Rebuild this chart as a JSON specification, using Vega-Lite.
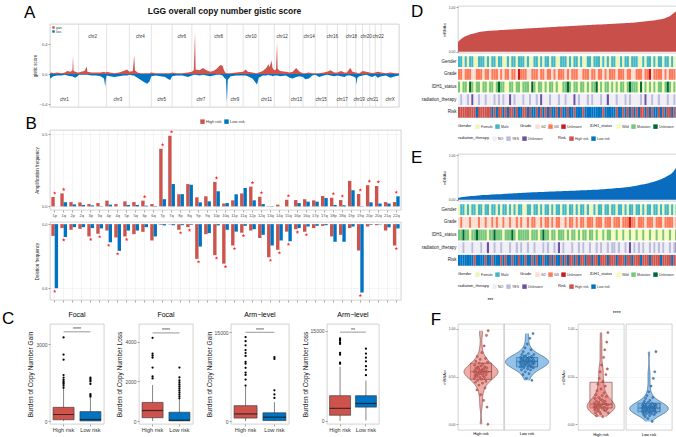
{
"$schema": "https://vega.github.io/schema/vega-lite/v6.json",
"padding": {"left": 2, "top": 2, "right": 0, "bottom": 0},
"background": "white",
"align": "none",
"config": {
 "font": "Liberation Sans",
 "view": {"stroke": "#b3b3b3", "strokeWidth": 0.6},
 "axis": {"labelFontSize": 4, "titleFontSize": 4.5, "titleFontWeight": "normal", "labelColor": "#4d4d4d", "titleColor": "#1a1a1a", "tickColor": "#4d4d4d", "tickSize": 2, "tickWidth": 0.5, "domain": false, "grid": false, "gridColor": "#ebebeb", "gridWidth": 0.5, "labelPadding": 1, "titlePadding": 2},
 "legend": {"labelFontSize": 3.5, "titleFontSize": 4, "titleFontWeight": "normal", "symbolType": "square", "symbolSize": 20, "symbolStrokeWidth": 0, "columnPadding": 2, "labelOffset": 1, "titlePadding": 3, "padding": 0, "rowPadding": 0, "labelColor": "#333", "titleColor": "#111"}
},
"resolve": {"scale": {"color": "independent", "fill": "independent", "stroke": "independent"}},
"datasets": {
 "glab": [{"g": "H", "gl": "High risk"}, {"g": "L", "gl": "Low risk"}],
 "gis": [
  {"p":0,"g":0.01,"l":-0.06},{"p":10,"g":0.02,"l":-0.05},{"p":30,"g":0.01,"l":-0.03},{"p":60,"g":0.02,"l":-0.02},{"p":100,"g":0.01,"l":-0.02},{"p":130,"g":0.02,"l":-0.01},{"p":150,"g":0.04,"l":-0.02},{"p":180,"g":0.03,"l":-0.03},{"p":195,"g":0.05,"l":-0.03},{"p":200,"g":0.24,"l":-0.04},{"p":205,"g":0.04,"l":-0.04},{"p":220,"g":0.03,"l":-0.05},{"p":240,"g":0.02,"l":-0.03},{"p":250,"g":0.02,"l":-0.01},{"p":270,"g":0.03,"l":-0.01},{"p":300,"g":0.04,"l":-0.01},{"p":320,"g":0.1,"l":-0.01},{"p":325,"g":0.03,"l":-0.01},{"p":360,"g":0.02,"l":-0.02},{"p":400,"g":0.02,"l":-0.02},{"p":440,"g":0.02,"l":-0.03},{"p":470,"g":0.03,"l":-0.06},{"p":480,"g":0.02,"l":-0.17},{"p":485,"g":0.02,"l":-0.08},{"p":492,"g":0.03,"l":-0.02},{"p":520,"g":0.02,"l":-0.03},{"p":560,"g":0.01,"l":-0.04},{"p":600,"g":0.02,"l":-0.03},{"p":640,"g":0.04,"l":-0.02},{"p":670,"g":0.06,"l":-0.02},{"p":690,"g":0.03,"l":-0.01},{"p":720,"g":0.04,"l":-0.02},{"p":732,"g":0.25,"l":-0.02},{"p":738,"g":0.05,"l":-0.03},{"p":760,"g":0.02,"l":-0.05},{"p":790,"g":0.01,"l":-0.08},{"p":820,"g":0.01,"l":-0.11},{"p":845,"g":0.01,"l":-0.13},{"p":865,"g":0.01,"l":-0.1},{"p":881,"g":0.02,"l":-0.03},{"p":920,"g":0.01,"l":-0.02},{"p":960,"g":0.01,"l":-0.03},{"p":1000,"g":0.01,"l":-0.04},{"p":1030,"g":0.01,"l":-0.07},{"p":1045,"g":0.01,"l":-0.08},{"p":1062,"g":0.02,"l":-0.03},{"p":1100,"g":0.01,"l":-0.02},{"p":1150,"g":0.01,"l":-0.02},{"p":1200,"g":0.02,"l":-0.04},{"p":1233,"g":0.03,"l":-0.02},{"p":1250,"g":0.05,"l":-0.01},{"p":1261,"g":0.55,"l":-0.01},{"p":1266,"g":0.06,"l":-0.01},{"p":1300,"g":0.05,"l":-0.02},{"p":1330,"g":0.08,"l":-0.01},{"p":1360,"g":0.05,"l":-0.02},{"p":1392,"g":0.03,"l":-0.03},{"p":1420,"g":0.04,"l":-0.02},{"p":1450,"g":0.07,"l":-0.01},{"p":1480,"g":0.12,"l":-0.01},{"p":1500,"g":0.11,"l":-0.02},{"p":1515,"g":0.04,"l":-0.05},{"p":1530,"g":0.01,"l":-0.07},{"p":1538,"g":0.01,"l":-0.38},{"p":1545,"g":0.01,"l":-0.08},{"p":1570,"g":0.01,"l":-0.03},{"p":1620,"g":0.02,"l":-0.02},{"p":1679,"g":0.03,"l":-0.02},{"p":1700,"g":0.06,"l":-0.02},{"p":1720,"g":0.03,"l":-0.03},{"p":1760,"g":0.02,"l":-0.06},{"p":1790,"g":0.01,"l":-0.12},{"p":1800,"g":0.01,"l":-0.14},{"p":1815,"g":0.02,"l":-0.05},{"p":1850,"g":0.04,"l":-0.02},{"p":1880,"g":0.08,"l":-0.02},{"p":1900,"g":0.13,"l":-0.01},{"p":1910,"g":0.09,"l":-0.02},{"p":1925,"g":0.18,"l":-0.02},{"p":1935,"g":0.08,"l":-0.03},{"p":1950,"g":0.05,"l":-0.02},{"p":1965,"g":0.06,"l":-0.02},{"p":1974,"g":0.42,"l":-0.02},{"p":1979,"g":0.07,"l":-0.02},{"p":2000,"g":0.04,"l":-0.03},{"p":2050,"g":0.03,"l":-0.02},{"p":2084,"g":0.02,"l":-0.05},{"p":2110,"g":0.03,"l":-0.06},{"p":2140,"g":0.08,"l":-0.04},{"p":2170,"g":0.03,"l":-0.03},{"p":2199,"g":0.01,"l":-0.04},{"p":2220,"g":0.01,"l":-0.07},{"p":2250,"g":0.02,"l":-0.06},{"p":2280,"g":0.01,"l":-0.02},{"p":2306,"g":0.01,"l":-0.01},{"p":2340,"g":0.01,"l":-0.04},{"p":2380,"g":0.02,"l":-0.02},{"p":2409,"g":0.03,"l":-0.01},{"p":2440,"g":0.05,"l":-0.02},{"p":2470,"g":0.02,"l":-0.03},{"p":2499,"g":0.02,"l":-0.02},{"p":2530,"g":0.04,"l":-0.03},{"p":2560,"g":0.02,"l":-0.04},{"p":2580,"g":0.02,"l":-0.02},{"p":2610,"g":0.08,"l":-0.02},{"p":2630,"g":0.03,"l":-0.03},{"p":2658,"g":0.02,"l":-0.05},{"p":2665,"g":0.02,"l":-0.14},{"p":2672,"g":0.01,"l":-0.05},{"p":2690,"g":0.01,"l":-0.03},{"p":2717,"g":0.04,"l":-0.02},{"p":2750,"g":0.03,"l":-0.01},{"p":2780,"g":0.02,"l":-0.03},{"p":2800,"g":0.01,"l":-0.04},{"p":2828,"g":0.02,"l":-0.02},{"p":2850,"g":0.03,"l":-0.05},{"p":2879,"g":0.02,"l":-0.03},{"p":2920,"g":0.01,"l":-0.02},{"p":2960,"g":0.02,"l":-0.05},{"p":3000,"g":0.01,"l":-0.03},{"p":3034,"g":0.01,"l":-0.02}
 ],
 "chr": [
  {"c":"chr1","s":0,"m":124,"n":1},{"c":"chr2","s":249,"m":370,"n":2},{"c":"chr3","s":492,"m":591,"n":3},{"c":"chr4","s":690,"m":785,"n":4},{"c":"chr5","s":881,"m":971,"n":5},{"c":"chr6","s":1062,"m":1147,"n":6},{"c":"chr7","s":1233,"m":1312,"n":7},{"c":"chr8","s":1392,"m":1465,"n":8},{"c":"chr9","s":1538,"m":1608,"n":9},{"c":"chr10","s":1679,"m":1747,"n":10},{"c":"chr11","s":1815,"m":1882,"n":11},{"c":"chr12","s":1950,"m":2017,"n":12},{"c":"chr13","s":2084,"m":2141,"n":13},{"c":"chr14","s":2199,"m":2252,"n":14},{"c":"chr15","s":2306,"m":2357,"n":15},{"c":"chr16","s":2409,"m":2454,"n":16},{"c":"chr17","s":2499,"m":2539,"n":17},{"c":"chr18","s":2580,"m":2619,"n":18},{"c":"chr19","s":2658,"m":2687,"n":19},{"c":"chr20","s":2717,"m":2748,"n":20},{"c":"chr21","s":2780,"m":2804,"n":21},{"c":"chr22","s":2828,"m":2853,"n":22},{"c":"chrX","s":2879,"m":2956,"n":23}
 ],
 "arm": [
  {"a":"1p","r":"H","amp":0.065,"del":0.11},{"a":"1p","r":"L","amp":0,"del":0.6},
  {"a":"1q","r":"H","amp":0.09,"del":0.037},{"a":"1q","r":"L","amp":0.028,"del":0.12},
  {"a":"2p","r":"H","amp":0.03,"del":0.053},{"a":"2p","r":"L","amp":0.014,"del":0.028},
  {"a":"2q","r":"H","amp":0.028,"del":0.044},{"a":"2q","r":"L","amp":0.01,"del":0.028},
  {"a":"3p","r":"H","amp":0.016,"del":0.115},{"a":"3p","r":"L","amp":0.007,"del":0.037},
  {"a":"3q","r":"H","amp":0.023,"del":0.09},{"a":"3q","r":"L","amp":0.002,"del":0.04},
  {"a":"4p","r":"H","amp":0.04,"del":0.06},{"a":"4p","r":"L","amp":0.012,"del":0.17},
  {"a":"4q","r":"H","amp":0.016,"del":0.125},{"a":"4q","r":"L","amp":0,"del":0.25},
  {"a":"5p","r":"H","amp":0.035,"del":0.115},{"a":"5p","r":"L","amp":0.01,"del":0.06},
  {"a":"5q","r":"H","amp":0.03,"del":0.094},{"a":"5q","r":"L","amp":0.01,"del":0.06},
  {"a":"6p","r":"H","amp":0.04,"del":0.072},{"a":"6p","r":"L","amp":0.005,"del":0.028},
  {"a":"6q","r":"H","amp":0.016,"del":0.153},{"a":"6q","r":"L","amp":0.003,"del":0.115},
  {"a":"7p","r":"H","amp":0.4,"del":0.006},{"a":"7p","r":"L","amp":0.05,"del":0.012},
  {"a":"7q","r":"H","amp":0.49,"del":0.003},{"a":"7q","r":"L","amp":0.155,"del":0.01},
  {"a":"8p","r":"H","amp":0.085,"del":0.053},{"a":"8p","r":"L","amp":0.085,"del":0.01},
  {"a":"8q","r":"H","amp":0.155,"del":0.028},{"a":"8q","r":"L","amp":0.15,"del":0.006},
  {"a":"9p","r":"H","amp":0.063,"del":0.325},{"a":"9p","r":"L","amp":0.028,"del":0.21},
  {"a":"9q","r":"H","amp":0.07,"del":0.094},{"a":"9q","r":"L","amp":0.035,"del":0.084},
  {"a":"10p","r":"H","amp":0.17,"del":0.29},{"a":"10p","r":"L","amp":0.105,"del":0.012},
  {"a":"10q","r":"H","amp":0.02,"del":0.37},{"a":"10q","r":"L","amp":0.023,"del":0.053},
  {"a":"11p","r":"H","amp":0.042,"del":0.2},{"a":"11p","r":"L","amp":0.084,"del":0.07},
  {"a":"11q","r":"H","amp":0.09,"del":0.08},{"a":"11q","r":"L","amp":0.128,"del":0.016},
  {"a":"12p","r":"H","amp":0.137,"del":0.06},{"a":"12p","r":"L","amp":0.042,"del":0.047},
  {"a":"12q","r":"H","amp":0.067,"del":0.13},{"a":"12q","r":"L","amp":0.016,"del":0.1},
  {"a":"13q","r":"H","amp":0.002,"del":0.31},{"a":"13q","r":"L","amp":0.002,"del":0.2},
  {"a":"14q","r":"H","amp":0.012,"del":0.24},{"a":"14q","r":"L","amp":0,"del":0.153},
  {"a":"15q","r":"H","amp":0.046,"del":0.07},{"a":"15q","r":"L","amp":0,"del":0.16},
  {"a":"16p","r":"H","amp":0.044,"del":0.047},{"a":"16p","r":"L","amp":0.023,"del":0.037},
  {"a":"16q","r":"H","amp":0.05,"del":0.072},{"a":"16q","r":"L","amp":0.033,"del":0.022},
  {"a":"17p","r":"H","amp":0.042,"del":0.037},{"a":"17p","r":"L","amp":0.033,"del":0.016},
  {"a":"17q","r":"H","amp":0.072,"del":0.016},{"a":"17q","r":"L","amp":0.058,"del":0.01},
  {"a":"18p","r":"H","amp":0.06,"del":0.115},{"a":"18p","r":"L","amp":0.01,"del":0.165},
  {"a":"18q","r":"H","amp":0.044,"del":0.1},{"a":"18q","r":"L","amp":0.008,"del":0.165},
  {"a":"19p","r":"H","amp":0.177,"del":0.037},{"a":"19p","r":"L","amp":0.112,"del":0.022},
  {"a":"19q","r":"H","amp":0.086,"del":0.247},{"a":"19q","r":"L","amp":0.002,"del":0.64},
  {"a":"20p","r":"H","amp":0.147,"del":0.022},{"a":"20p","r":"L","amp":0.028,"del":0.006},
  {"a":"20q","r":"H","amp":0.142,"del":0.01},{"a":"20q","r":"L","amp":0.02,"del":0.003},
  {"a":"21q","r":"H","amp":0.03,"del":0.06},{"a":"21q","r":"L","amp":0.02,"del":0.03},
  {"a":"22q","r":"H","amp":0.03,"del":0.2},{"a":"22q","r":"L","amp":0.07,"del":0.04}
 ],
 "st": [
  {"a":"1p","t":"amp","v":0.065},{"a":"1q","t":"amp","v":0.09},{"a":"6p","t":"amp","v":0.04},{"a":"7p","t":"amp","v":0.4},{"a":"7q","t":"amp","v":0.49},{"a":"10p","t":"amp","v":0.17},{"a":"12p","t":"amp","v":0.137},{"a":"12q","t":"amp","v":0.067},{"a":"15q","t":"amp","v":0.046},{"a":"18p","t":"amp","v":0.06},{"a":"18q","t":"amp","v":0.044},{"a":"19q","t":"amp","v":0.086},{"a":"20p","t":"amp","v":0.147},{"a":"20q","t":"amp","v":0.142},{"a":"22q","t":"amp","v":0.07},
  {"a":"1p","t":"del","v":0.6},{"a":"1q","t":"del","v":0.12},{"a":"3p","t":"del","v":0.115},{"a":"3q","t":"del","v":0.09},{"a":"4p","t":"del","v":0.17},{"a":"4q","t":"del","v":0.25},{"a":"5p","t":"del","v":0.115},{"a":"8p","t":"del","v":0.053},{"a":"8q","t":"del","v":0.028},{"a":"9p","t":"del","v":0.325},{"a":"10p","t":"del","v":0.29},{"a":"10q","t":"del","v":0.37},{"a":"11p","t":"del","v":0.2},{"a":"11q","t":"del","v":0.08},{"a":"13q","t":"del","v":0.31},{"a":"14q","t":"del","v":0.24},{"a":"15q","t":"del","v":0.16},{"a":"16p","t":"del","v":0.047},{"a":"16q","t":"del","v":0.072},{"a":"19q","t":"del","v":0.64},{"a":"22q","t":"del","v":0.2}
 ],
 "cb": [
  {"p":"FG","g":"High risk","lo":0,"q1":50,"md":256,"q3":536,"hi":1250},{"p":"FG","g":"Low risk","lo":0,"q1":5,"md":60,"q3":370,"hi":900},
  {"p":"FL","g":"High risk","lo":0,"q1":165,"md":530,"q3":940,"hi":1820},{"p":"FL","g":"Low risk","lo":0,"q1":10,"md":40,"q3":445,"hi":1100},
  {"p":"AG","g":"High risk","lo":0,"q1":500,"md":1200,"q3":2600,"hi":5800},{"p":"AG","g":"Low risk","lo":0,"q1":80,"md":650,"q3":1400,"hi":3200},
  {"p":"AL","g":"High risk","lo":0,"q1":950,"md":2100,"q3":4200,"hi":9000},{"p":"AL","g":"Low risk","lo":100,"q1":2300,"md":2900,"q3":4200,"hi":6700}
 ],
 "co": [
  {"p":"FG","g":"High risk","v":1300},{"p":"FG","g":"High risk","v":1380},{"p":"FG","g":"High risk","v":1450},{"p":"FG","g":"High risk","v":1500},{"p":"FG","g":"High risk","v":1560},{"p":"FG","g":"High risk","v":1620},{"p":"FG","g":"High risk","v":1700},{"p":"FG","g":"High risk","v":1800},{"p":"FG","g":"High risk","v":2400},{"p":"FG","g":"High risk","v":2600},{"p":"FG","g":"High risk","v":3270},
  {"p":"FG","g":"Low risk","v":950},{"p":"FG","g":"Low risk","v":1000},{"p":"FG","g":"Low risk","v":1050},{"p":"FG","g":"Low risk","v":1450},{"p":"FG","g":"Low risk","v":1550},{"p":"FG","g":"Low risk","v":1600},{"p":"FG","g":"Low risk","v":1650},{"p":"FG","g":"Low risk","v":1700},
  {"p":"FL","g":"High risk","v":2150},{"p":"FL","g":"High risk","v":2250},{"p":"FL","g":"High risk","v":2700},{"p":"FL","g":"High risk","v":3200},{"p":"FL","g":"High risk","v":3300},{"p":"FL","g":"High risk","v":3400},{"p":"FL","g":"High risk","v":4200},
  {"p":"FL","g":"Low risk","v":1150},{"p":"FL","g":"Low risk","v":1250},{"p":"FL","g":"Low risk","v":1350},{"p":"FL","g":"Low risk","v":1450},{"p":"FL","g":"Low risk","v":1550},{"p":"FL","g":"Low risk","v":1650},{"p":"FL","g":"Low risk","v":1750},{"p":"FL","g":"Low risk","v":1850},{"p":"FL","g":"Low risk","v":1950},{"p":"FL","g":"Low risk","v":2050},{"p":"FL","g":"Low risk","v":2200},{"p":"FL","g":"Low risk","v":2700},
  {"p":"AG","g":"High risk","v":6000},{"p":"AG","g":"High risk","v":7000},{"p":"AG","g":"High risk","v":7800},{"p":"AG","g":"High risk","v":8200},{"p":"AG","g":"High risk","v":9000},{"p":"AG","g":"High risk","v":9700},{"p":"AG","g":"High risk","v":10000},{"p":"AG","g":"High risk","v":11000},{"p":"AG","g":"High risk","v":11500},{"p":"AG","g":"High risk","v":12000},{"p":"AG","g":"High risk","v":12800},{"p":"AG","g":"High risk","v":13500},{"p":"AG","g":"High risk","v":14200},
  {"p":"AG","g":"Low risk","v":3900},{"p":"AG","g":"Low risk","v":4500},{"p":"AG","g":"Low risk","v":5200},{"p":"AG","g":"Low risk","v":10500},{"p":"AG","g":"Low risk","v":10800},
  {"p":"AL","g":"High risk","v":9500},{"p":"AL","g":"High risk","v":9700},{"p":"AL","g":"High risk","v":11000},{"p":"AL","g":"High risk","v":11300},{"p":"AL","g":"High risk","v":12800},{"p":"AL","g":"High risk","v":13000},{"p":"AL","g":"High risk","v":13300},{"p":"AL","g":"High risk","v":13500},{"p":"AL","g":"High risk","v":13700},
  {"p":"AL","g":"Low risk","v":7600},{"p":"AL","g":"Low risk","v":8500},{"p":"AL","g":"Low risk","v":9100},{"p":"AL","g":"Low risk","v":9900},{"p":"AL","g":"Low risk","v":10500},{"p":"AL","g":"Low risk","v":11200},{"p":"AL","g":"Low risk","v":12000}
 ],
 "cs": [
  {"p":"FG","y":3487,"t":"****"},{"p":"FL","y":4450,"t":"****"},{"p":"AG","y":15000,"t":"****"},{"p":"AL","y":14750,"t":"**"}
 ],
 "dd": [
  {"i":1,"m":0.22,"g":"M","r":"3","d":"M","t":"N","k":"H"},{"i":2,"m":0.27,"g":"M","r":"3","d":"W","t":"Y","k":"H"},{"i":3,"m":0.31,"g":"F","r":"2","d":"M","t":"N","k":"H"},{"i":4,"m":0.34,"g":"M","r":"3","d":"M","t":"N","k":"H"},{"i":5,"m":0.36,"g":"F","r":"3","d":"W","t":"Y","k":"H"},{"i":6,"m":0.38,"g":"M","r":"3","d":"U","t":"N","k":"H"},{"i":7,"m":0.4,"g":"M","r":"2","d":"M","t":"U","k":"H"},{"i":8,"m":0.41,"g":"F","r":"2","d":"W","t":"N","k":"H"},{"i":9,"m":0.42,"g":"F","r":"3","d":"M","t":"N","k":"L"},{"i":10,"m":0.44,"g":"M","r":"3","d":"M","t":"Y","k":"H"},
  {"i":11,"m":0.45,"g":"M","r":"3","d":"W","t":"N","k":"H"},{"i":12,"m":0.455,"g":"M","r":"2","d":"M","t":"N","k":"H"},{"i":13,"m":0.46,"g":"F","r":"3","d":"M","t":"Y","k":"H"},{"i":14,"m":0.465,"g":"M","r":"3","d":"W","t":"N","k":"H"},{"i":15,"m":0.47,"g":"F","r":"2","d":"M","t":"N","k":"H"},{"i":16,"m":0.472,"g":"M","r":"3","d":"M","t":"N","k":"L"},{"i":17,"m":0.475,"g":"M","r":"3","d":"W","t":"Y","k":"H"},{"i":18,"m":0.478,"g":"F","r":"3","d":"M","t":"N","k":"L"},{"i":19,"m":0.482,"g":"M","r":"2","d":"U","t":"Y","k":"H"},{"i":20,"m":0.486,"g":"M","r":"3","d":"M","t":"N","k":"H"},
  {"i":21,"m":0.49,"g":"F","r":"2","d":"M","t":"Y","k":"L"},{"i":22,"m":0.493,"g":"F","r":"3","d":"W","t":"N","k":"H"},{"i":23,"m":0.496,"g":"M","r":"3","d":"W","t":"N","k":"L"},{"i":24,"m":0.499,"g":"F","r":"2","d":"M","t":"U","k":"H"},{"i":25,"m":0.502,"g":"M","r":"3","d":"M","t":"N","k":"H"},{"i":26,"m":0.505,"g":"M","r":"3","d":"W","t":"Y","k":"L"},{"i":27,"m":0.508,"g":"F","r":"2","d":"M","t":"N","k":"H"},{"i":28,"m":0.511,"g":"M","r":"U","d":"M","t":"N","k":"L"},{"i":29,"m":0.514,"g":"M","r":"3","d":"W","t":"N","k":"L"},{"i":30,"m":0.517,"g":"M","r":"3","d":"M","t":"Y","k":"H"},
  {"i":31,"m":0.52,"g":"F","r":"3","d":"M","t":"N","k":"H"},{"i":32,"m":0.523,"g":"M","r":"2","d":"M","t":"N","k":"L"},{"i":33,"m":0.526,"g":"F","r":"2","d":"W","t":"Y","k":"H"},{"i":34,"m":0.529,"g":"F","r":"3","d":"U","t":"N","k":"L"},{"i":35,"m":0.532,"g":"M","r":"3","d":"M","t":"N","k":"L"},{"i":36,"m":0.535,"g":"M","r":"3","d":"W","t":"Y","k":"H"},{"i":37,"m":0.538,"g":"F","r":"2","d":"M","t":"N","k":"L"},{"i":38,"m":0.541,"g":"M","r":"3","d":"M","t":"U","k":"H"},{"i":39,"m":0.544,"g":"F","r":"3","d":"W","t":"N","k":"L"},{"i":40,"m":0.547,"g":"M","r":"2","d":"M","t":"N","k":"H"},
  {"i":41,"m":0.55,"g":"M","r":"3","d":"W","t":"N","k":"L"},{"i":42,"m":0.553,"g":"F","r":"3","d":"M","t":"Y","k":"H"},{"i":43,"m":0.556,"g":"M","r":"2","d":"M","t":"N","k":"L"},{"i":44,"m":0.559,"g":"M","r":"3","d":"W","t":"N","k":"L"},{"i":45,"m":0.562,"g":"F","r":"2","d":"M","t":"N","k":"H"},{"i":46,"m":0.565,"g":"F","r":"3","d":"W","t":"Y","k":"L"},{"i":47,"m":0.568,"g":"M","r":"3","d":"W","t":"N","k":"H"},{"i":48,"m":0.57,"g":"M","r":"3","d":"M","t":"N","k":"L"},{"i":49,"m":0.573,"g":"M","r":"2","d":"M","t":"Y","k":"L"},{"i":50,"m":0.575,"g":"F","r":"3","d":"U","t":"N","k":"H"},
  {"i":51,"m":0.578,"g":"M","r":"2","d":"M","t":"N","k":"L"},{"i":52,"m":0.581,"g":"F","r":"3","d":"W","t":"N","k":"L"},{"i":53,"m":0.583,"g":"M","r":"3","d":"M","t":"U","k":"H"},{"i":54,"m":0.586,"g":"M","r":"3","d":"M","t":"N","k":"L"},{"i":55,"m":0.589,"g":"F","r":"2","d":"W","t":"Y","k":"L"},{"i":56,"m":0.591,"g":"M","r":"2","d":"M","t":"N","k":"L"},{"i":57,"m":0.594,"g":"F","r":"3","d":"M","t":"N","k":"H"},{"i":58,"m":0.597,"g":"F","r":"3","d":"W","t":"N","k":"L"},{"i":59,"m":0.599,"g":"M","r":"3","d":"M","t":"Y","k":"L"},{"i":60,"m":0.602,"g":"M","r":"2","d":"W","t":"N","k":"L"},
  {"i":61,"m":0.605,"g":"F","r":"3","d":"M","t":"Y","k":"L"},{"i":62,"m":0.607,"g":"M","r":"3","d":"M","t":"N","k":"L"},{"i":63,"m":0.61,"g":"M","r":"2","d":"U","t":"N","k":"L"},{"i":64,"m":0.613,"g":"M","r":"3","d":"W","t":"N","k":"L"},{"i":65,"m":0.615,"g":"F","r":"3","d":"M","t":"Y","k":"L"},{"i":66,"m":0.618,"g":"M","r":"2","d":"W","t":"N","k":"H"},{"i":67,"m":0.621,"g":"F","r":"3","d":"M","t":"N","k":"L"},{"i":68,"m":0.623,"g":"M","r":"2","d":"M","t":"U","k":"L"},{"i":69,"m":0.626,"g":"F","r":"3","d":"W","t":"N","k":"L"},{"i":70,"m":0.629,"g":"M","r":"3","d":"M","t":"N","k":"L"},
  {"i":71,"m":0.631,"g":"M","r":"3","d":"W","t":"N","k":"L"},{"i":72,"m":0.634,"g":"F","r":"2","d":"M","t":"Y","k":"H"},{"i":73,"m":0.637,"g":"F","r":"3","d":"W","t":"N","k":"L"},{"i":74,"m":0.639,"g":"M","r":"3","d":"M","t":"N","k":"L"},{"i":75,"m":0.642,"g":"F","r":"3","d":"M","t":"N","k":"H"},{"i":76,"m":0.645,"g":"M","r":"2","d":"W","t":"Y","k":"L"},{"i":77,"m":0.647,"g":"M","r":"3","d":"M","t":"N","k":"H"},{"i":78,"m":0.65,"g":"F","r":"3","d":"U","t":"Y","k":"L"},{"i":79,"m":0.655,"g":"M","r":"2","d":"M","t":"N","k":"H"},{"i":80,"m":0.66,"g":"M","r":"2","d":"M","t":"N","k":"L"},
  {"i":81,"m":0.665,"g":"M","r":"3","d":"M","t":"N","k":"H"},{"i":82,"m":0.67,"g":"F","r":"3","d":"W","t":"N","k":"L"},{"i":83,"m":0.675,"g":"F","r":"3","d":"U","t":"Y","k":"H"},{"i":84,"m":0.68,"g":"M","r":"2","d":"W","t":"N","k":"H"},{"i":85,"m":0.686,"g":"F","r":"3","d":"M","t":"U","k":"L"},{"i":86,"m":0.692,"g":"M","r":"3","d":"W","t":"N","k":"H"},{"i":87,"m":0.698,"g":"M","r":"U","d":"M","t":"N","k":"L"},{"i":88,"m":0.704,"g":"F","r":"2","d":"W","t":"Y","k":"H"},{"i":89,"m":0.71,"g":"M","r":"3","d":"M","t":"N","k":"L"},{"i":90,"m":0.718,"g":"F","r":"3","d":"W","t":"N","k":"L"},
  {"i":91,"m":0.727,"g":"M","r":"3","d":"M","t":"Y","k":"H"},{"i":92,"m":0.737,"g":"M","r":"3","d":"M","t":"N","k":"L"},{"i":93,"m":0.75,"g":"F","r":"2","d":"W","t":"N","k":"H"},{"i":94,"m":0.77,"g":"M","r":"3","d":"M","t":"N","k":"L"},{"i":95,"m":0.79,"g":"M","r":"2","d":"U","t":"Y","k":"H"},{"i":96,"m":0.82,"g":"F","r":"3","d":"M","t":"N","k":"H"},{"i":97,"m":0.86,"g":"M","r":"3","d":"W","t":"N","k":"L"},{"i":98,"m":0.9,"g":"F","r":"3","d":"M","t":"Y","k":"H"},{"i":99,"m":0.95,"g":"F","r":"2","d":"W","t":"N","k":"L"},{"i":100,"m":1.0,"g":"M","r":"3","d":"M","t":"U","k":"H"}
 ],
 "ed": [
  {"i":1,"m":0.04,"g":"F","r":"2","d":"M","t":"N","k":"L"},{"i":2,"m":0.05,"g":"M","r":"3","d":"M","t":"N","k":"L"},{"i":3,"m":0.06,"g":"M","r":"2","d":"U","t":"Y","k":"L"},{"i":4,"m":0.065,"g":"F","r":"2","d":"M","t":"N","k":"L"},{"i":5,"m":0.07,"g":"M","r":"2","d":"M","t":"N","k":"L"},{"i":6,"m":0.075,"g":"F","r":"3","d":"W","t":"N","k":"L"},{"i":7,"m":0.08,"g":"M","r":"2","d":"M","t":"Y","k":"L"},{"i":8,"m":0.085,"g":"M","r":"2","d":"M","t":"N","k":"H"},{"i":9,"m":0.09,"g":"F","r":"2","d":"U","t":"N","k":"L"},{"i":10,"m":0.095,"g":"M","r":"3","d":"M","t":"N","k":"L"},
  {"i":11,"m":0.1,"g":"M","r":"2","d":"M","t":"Y","k":"L"},{"i":12,"m":0.103,"g":"F","r":"2","d":"M","t":"N","k":"L"},{"i":13,"m":0.106,"g":"M","r":"3","d":"M","t":"N","k":"H"},{"i":14,"m":0.108,"g":"M","r":"2","d":"W","t":"U","k":"L"},{"i":15,"m":0.111,"g":"F","r":"2","d":"M","t":"N","k":"L"},{"i":16,"m":0.114,"g":"M","r":"3","d":"M","t":"N","k":"H"},{"i":17,"m":0.117,"g":"M","r":"2","d":"U","t":"Y","k":"L"},{"i":18,"m":0.12,"g":"F","r":"3","d":"M","t":"N","k":"L"},{"i":19,"m":0.123,"g":"M","r":"2","d":"M","t":"N","k":"L"},{"i":20,"m":0.125,"g":"F","r":"2","d":"M","t":"Y","k":"H"},
  {"i":21,"m":0.128,"g":"M","r":"3","d":"W","t":"N","k":"L"},{"i":22,"m":0.131,"g":"M","r":"2","d":"M","t":"N","k":"H"},{"i":23,"m":0.134,"g":"F","r":"2","d":"M","t":"N","k":"L"},{"i":24,"m":0.137,"g":"M","r":"3","d":"M","t":"Y","k":"L"},{"i":25,"m":0.14,"g":"F","r":"2","d":"U","t":"N","k":"H"},{"i":26,"m":0.142,"g":"M","r":"2","d":"M","t":"N","k":"L"},{"i":27,"m":0.145,"g":"F","r":"3","d":"W","t":"Y","k":"L"},{"i":28,"m":0.148,"g":"M","r":"2","d":"M","t":"N","k":"H"},{"i":29,"m":0.151,"g":"M","r":"3","d":"M","t":"Y","k":"L"},{"i":30,"m":0.154,"g":"F","r":"2","d":"M","t":"N","k":"L"},
  {"i":31,"m":0.157,"g":"F","r":"2","d":"M","t":"N","k":"H"},{"i":32,"m":0.159,"g":"M","r":"3","d":"M","t":"Y","k":"L"},{"i":33,"m":0.162,"g":"M","r":"2","d":"W","t":"N","k":"L"},{"i":34,"m":0.165,"g":"F","r":"3","d":"M","t":"N","k":"H"},{"i":35,"m":0.167,"g":"M","r":"3","d":"M","t":"Y","k":"L"},{"i":36,"m":0.169,"g":"M","r":"2","d":"M","t":"N","k":"H"},{"i":37,"m":0.171,"g":"F","r":"2","d":"W","t":"N","k":"L"},{"i":38,"m":0.173,"g":"M","r":"3","d":"M","t":"N","k":"L"},{"i":39,"m":0.175,"g":"F","r":"2","d":"U","t":"Y","k":"H"},{"i":40,"m":0.177,"g":"M","r":"3","d":"M","t":"N","k":"L"},
  {"i":41,"m":0.179,"g":"M","r":"3","d":"M","t":"Y","k":"L"},{"i":42,"m":0.182,"g":"F","r":"2","d":"W","t":"N","k":"H"},{"i":43,"m":0.184,"g":"M","r":"3","d":"M","t":"N","k":"L"},{"i":44,"m":0.186,"g":"F","r":"2","d":"M","t":"Y","k":"H"},{"i":45,"m":0.188,"g":"M","r":"3","d":"W","t":"N","k":"L"},{"i":46,"m":0.19,"g":"M","r":"3","d":"M","t":"U","k":"L"},{"i":47,"m":0.192,"g":"F","r":"2","d":"M","t":"N","k":"H"},{"i":48,"m":0.194,"g":"M","r":"2","d":"M","t":"Y","k":"L"},{"i":49,"m":0.196,"g":"M","r":"3","d":"W","t":"N","k":"H"},{"i":50,"m":0.198,"g":"F","r":"2","d":"M","t":"N","k":"L"},
  {"i":51,"m":0.2,"g":"M","r":"3","d":"W","t":"N","k":"H"},{"i":52,"m":0.202,"g":"M","r":"3","d":"M","t":"Y","k":"H"},{"i":53,"m":0.204,"g":"F","r":"2","d":"M","t":"N","k":"L"},{"i":54,"m":0.206,"g":"M","r":"3","d":"W","t":"N","k":"H"},{"i":55,"m":0.208,"g":"F","r":"2","d":"M","t":"Y","k":"L"},{"i":56,"m":0.21,"g":"M","r":"3","d":"W","t":"N","k":"H"},{"i":57,"m":0.213,"g":"M","r":"3","d":"M","t":"Y","k":"H"},{"i":58,"m":0.215,"g":"F","r":"2","d":"M","t":"N","k":"L"},{"i":59,"m":0.217,"g":"M","r":"3","d":"W","t":"N","k":"H"},{"i":60,"m":0.219,"g":"F","r":"3","d":"M","t":"Y","k":"H"},
  {"i":61,"m":0.221,"g":"F","r":"3","d":"M","t":"N","k":"L"},{"i":62,"m":0.223,"g":"M","r":"2","d":"W","t":"N","k":"H"},{"i":63,"m":0.225,"g":"F","r":"3","d":"M","t":"Y","k":"H"},{"i":64,"m":0.229,"g":"M","r":"3","d":"W","t":"N","k":"L"},{"i":65,"m":0.233,"g":"M","r":"3","d":"W","t":"Y","k":"H"},{"i":66,"m":0.237,"g":"F","r":"2","d":"M","t":"N","k":"H"},{"i":67,"m":0.241,"g":"M","r":"3","d":"W","t":"N","k":"H"},{"i":68,"m":0.245,"g":"M","r":"3","d":"M","t":"Y","k":"L"},{"i":69,"m":0.249,"g":"F","r":"3","d":"M","t":"N","k":"H"},{"i":70,"m":0.253,"g":"M","r":"2","d":"W","t":"Y","k":"H"},
  {"i":71,"m":0.257,"g":"M","r":"3","d":"W","t":"Y","k":"H"},{"i":72,"m":0.261,"g":"F","r":"3","d":"M","t":"N","k":"L"},{"i":73,"m":0.265,"g":"M","r":"3","d":"W","t":"Y","k":"H"},{"i":74,"m":0.269,"g":"M","r":"2","d":"W","t":"N","k":"H"},{"i":75,"m":0.273,"g":"F","r":"3","d":"M","t":"N","k":"H"},{"i":76,"m":0.278,"g":"M","r":"3","d":"W","t":"Y","k":"L"},{"i":77,"m":0.284,"g":"F","r":"3","d":"W","t":"N","k":"H"},{"i":78,"m":0.29,"g":"M","r":"U","d":"M","t":"U","k":"H"},{"i":79,"m":0.3,"g":"M","r":"3","d":"W","t":"N","k":"L"},{"i":80,"m":0.31,"g":"F","r":"3","d":"W","t":"Y","k":"H"},
  {"i":81,"m":0.32,"g":"M","r":"2","d":"M","t":"N","k":"H"},{"i":82,"m":0.33,"g":"M","r":"3","d":"W","t":"Y","k":"H"},{"i":83,"m":0.34,"g":"F","r":"3","d":"W","t":"N","k":"L"},{"i":84,"m":0.35,"g":"M","r":"3","d":"M","t":"Y","k":"H"},{"i":85,"m":0.36,"g":"F","r":"2","d":"W","t":"N","k":"H"},{"i":86,"m":0.372,"g":"M","r":"3","d":"W","t":"N","k":"H"},{"i":87,"m":0.385,"g":"M","r":"3","d":"M","t":"Y","k":"L"},{"i":88,"m":0.398,"g":"F","r":"3","d":"W","t":"N","k":"H"},{"i":89,"m":0.413,"g":"M","r":"2","d":"W","t":"Y","k":"H"},{"i":90,"m":0.43,"g":"M","r":"3","d":"M","t":"N","k":"H"},
  {"i":91,"m":0.45,"g":"F","r":"3","d":"W","t":"Y","k":"H"},{"i":92,"m":0.47,"g":"M","r":"3","d":"W","t":"N","k":"L"},{"i":93,"m":0.495,"g":"F","r":"2","d":"M","t":"Y","k":"H"},{"i":94,"m":0.52,"g":"M","r":"3","d":"W","t":"N","k":"H"},{"i":95,"m":0.55,"g":"M","r":"3","d":"W","t":"N","k":"H"},{"i":96,"m":0.58,"g":"F","r":"3","d":"M","t":"Y","k":"H"},{"i":97,"m":0.63,"g":"M","r":"3","d":"W","t":"N","k":"L"},{"i":98,"m":0.7,"g":"F","r":"2","d":"W","t":"Y","k":"H"},{"i":99,"m":0.8,"g":"M","r":"3","d":"U","t":"U","k":"H"},{"i":100,"m":0.97,"g":"M","r":"3","d":"W","t":"N","k":"L"}
 ],
 "fv": [
  {"p":"mR","g":"H","q1":0.47,"md":0.55,"q3":0.64},{"p":"mR","g":"L","q1":0.6,"md":0.66,"q3":0.7},{"p":"mD","g":"H","q1":0.17,"md":0.21,"q3":0.44},{"p":"mD","g":"L","q1":0.13,"md":0.17,"q3":0.22},
  {"p":"mR","g":"H","v":0.55,"id":1},{"p":"mR","g":"H","v":0.48,"id":2},{"p":"mR","g":"H","v":0.62,"id":3},{"p":"mR","g":"H","v":0.51,"id":4},{"p":"mR","g":"H","v":0.57,"id":5},{"p":"mR","g":"H","v":0.44,"id":6},{"p":"mR","g":"H","v":0.66,"id":7},{"p":"mR","g":"H","v":0.53,"id":8},{"p":"mR","g":"H","v":0.59,"id":9},{"p":"mR","g":"H","v":0.5,"id":10},{"p":"mR","g":"H","v":0.36,"id":11},{"p":"mR","g":"H","v":0.71,"id":12},{"p":"mR","g":"H","v":0.55,"id":13},{"p":"mR","g":"H","v":0.46,"id":14},{"p":"mR","g":"H","v":0.6,"id":15},{"p":"mR","g":"H","v":0.52,"id":16},{"p":"mR","g":"H","v":0.58,"id":17},{"p":"mR","g":"H","v":0.41,"id":18},{"p":"mR","g":"H","v":0.64,"id":19},{"p":"mR","g":"H","v":0.54,"id":20},{"p":"mR","g":"H","v":0.49,"id":21},{"p":"mR","g":"H","v":0.68,"id":22},{"p":"mR","g":"H","v":0.56,"id":23},{"p":"mR","g":"H","v":0.31,"id":24},{"p":"mR","g":"H","v":0.61,"id":25},{"p":"mR","g":"H","v":0.53,"id":26},{"p":"mR","g":"H","v":0.47,"id":27},{"p":"mR","g":"H","v":0.75,"id":28},{"p":"mR","g":"H","v":0.57,"id":29},{"p":"mR","g":"H","v":0.43,"id":30},{"p":"mR","g":"H","v":0.63,"id":31},{"p":"mR","g":"H","v":0.51,"id":32},{"p":"mR","g":"H","v":0.58,"id":33},{"p":"mR","g":"H","v":0.25,"id":34},{"p":"mR","g":"H","v":0.54,"id":35},{"p":"mR","g":"H","v":0.82,"id":36},{"p":"mR","g":"H","v":0.49,"id":37},{"p":"mR","g":"H","v":0.6,"id":38},{"p":"mR","g":"H","v":0.38,"id":39},{"p":"mR","g":"H","v":0.56,"id":40},{"p":"mR","g":"H","v":0.69,"id":41},{"p":"mR","g":"H","v":0.45,"id":42},{"p":"mR","g":"H","v":0.52,"id":43},{"p":"mR","g":"H","v":0.93,"id":44},{"p":"mR","g":"H","v":0.59,"id":45},{"p":"mR","g":"H","v":0.18,"id":46},{"p":"mR","g":"H","v":0.55,"id":47},{"p":"mR","g":"H","v":0.65,"id":48},{"p":"mR","g":"H","v":0.0,"id":49},{"p":"mR","g":"H","v":0.98,"id":50},
  {"p":"mR","g":"L","v":0.65,"id":1},{"p":"mR","g":"L","v":0.6,"id":2},{"p":"mR","g":"L","v":0.7,"id":3},{"p":"mR","g":"L","v":0.63,"id":4},{"p":"mR","g":"L","v":0.68,"id":5},{"p":"mR","g":"L","v":0.57,"id":6},{"p":"mR","g":"L","v":0.73,"id":7},{"p":"mR","g":"L","v":0.66,"id":8},{"p":"mR","g":"L","v":0.61,"id":9},{"p":"mR","g":"L","v":0.69,"id":10},{"p":"mR","g":"L","v":0.52,"id":11},{"p":"mR","g":"L","v":0.76,"id":12},{"p":"mR","g":"L","v":0.64,"id":13},{"p":"mR","g":"L","v":0.59,"id":14},{"p":"mR","g":"L","v":0.71,"id":15},{"p":"mR","g":"L","v":0.67,"id":16},{"p":"mR","g":"L","v":0.62,"id":17},{"p":"mR","g":"L","v":0.8,"id":18},{"p":"mR","g":"L","v":0.55,"id":19},{"p":"mR","g":"L","v":0.66,"id":20},{"p":"mR","g":"L","v":0.72,"id":21},{"p":"mR","g":"L","v":0.63,"id":22},{"p":"mR","g":"L","v":0.48,"id":23},{"p":"mR","g":"L","v":0.69,"id":24},{"p":"mR","g":"L","v":0.65,"id":25},{"p":"mR","g":"L","v":0.84,"id":26},{"p":"mR","g":"L","v":0.58,"id":27},{"p":"mR","g":"L","v":0.68,"id":28},{"p":"mR","g":"L","v":0.61,"id":29},{"p":"mR","g":"L","v":0.74,"id":30},{"p":"mR","g":"L","v":0.64,"id":31},{"p":"mR","g":"L","v":0.53,"id":32},{"p":"mR","g":"L","v":0.7,"id":33},{"p":"mR","g":"L","v":0.67,"id":34},{"p":"mR","g":"L","v":0.9,"id":35},{"p":"mR","g":"L","v":0.62,"id":36},{"p":"mR","g":"L","v":0.57,"id":37},{"p":"mR","g":"L","v":0.66,"id":38},{"p":"mR","g":"L","v":0.78,"id":39},{"p":"mR","g":"L","v":0.6,"id":40},{"p":"mR","g":"L","v":0.71,"id":41},{"p":"mR","g":"L","v":0.46,"id":42},{"p":"mR","g":"L","v":0.65,"id":43},{"p":"mR","g":"L","v":0.69,"id":44},{"p":"mR","g":"L","v":0.63,"id":45},{"p":"mR","g":"L","v":0.95,"id":46},{"p":"mR","g":"L","v":0.59,"id":47},{"p":"mR","g":"L","v":0.67,"id":48},{"p":"mR","g":"L","v":0.73,"id":49},{"p":"mR","g":"L","v":0.64,"id":50},
  {"p":"mD","g":"H","v":0.18,"id":1},{"p":"mD","g":"H","v":0.22,"id":2},{"p":"mD","g":"H","v":0.15,"id":3},{"p":"mD","g":"H","v":0.27,"id":4},{"p":"mD","g":"H","v":0.2,"id":5},{"p":"mD","g":"H","v":0.12,"id":6},{"p":"mD","g":"H","v":0.31,"id":7},{"p":"mD","g":"H","v":0.17,"id":8},{"p":"mD","g":"H","v":0.24,"id":9},{"p":"mD","g":"H","v":0.09,"id":10},{"p":"mD","g":"H","v":0.35,"id":11},{"p":"mD","g":"H","v":0.19,"id":12},{"p":"mD","g":"H","v":0.14,"id":13},{"p":"mD","g":"H","v":0.42,"id":14},{"p":"mD","g":"H","v":0.21,"id":15},{"p":"mD","g":"H","v":0.16,"id":16},{"p":"mD","g":"H","v":0.28,"id":17},{"p":"mD","g":"H","v":0.23,"id":18},{"p":"mD","g":"H","v":0.48,"id":19},{"p":"mD","g":"H","v":0.13,"id":20},{"p":"mD","g":"H","v":0.19,"id":21},{"p":"mD","g":"H","v":0.55,"id":22},{"p":"mD","g":"H","v":0.26,"id":23},{"p":"mD","g":"H","v":0.11,"id":24},{"p":"mD","g":"H","v":0.37,"id":25},{"p":"mD","g":"H","v":0.2,"id":26},{"p":"mD","g":"H","v":0.62,"id":27},{"p":"mD","g":"H","v":0.17,"id":28},{"p":"mD","g":"H","v":0.3,"id":29},{"p":"mD","g":"H","v":0.25,"id":30},{"p":"mD","g":"H","v":0.08,"id":31},{"p":"mD","g":"H","v":0.45,"id":32},{"p":"mD","g":"H","v":0.22,"id":33},{"p":"mD","g":"H","v":0.7,"id":34},{"p":"mD","g":"H","v":0.15,"id":35},{"p":"mD","g":"H","v":0.33,"id":36},{"p":"mD","g":"H","v":0.18,"id":37},{"p":"mD","g":"H","v":0.78,"id":38},{"p":"mD","g":"H","v":0.24,"id":39},{"p":"mD","g":"H","v":0.4,"id":40},{"p":"mD","g":"H","v":0.14,"id":41},{"p":"mD","g":"H","v":0.52,"id":42},{"p":"mD","g":"H","v":0.21,"id":43},{"p":"mD","g":"H","v":0.29,"id":44},{"p":"mD","g":"H","v":0.86,"id":45},{"p":"mD","g":"H","v":0.16,"id":46},{"p":"mD","g":"H","v":0.58,"id":47},{"p":"mD","g":"H","v":0.2,"id":48},{"p":"mD","g":"H","v":0.96,"id":49},{"p":"mD","g":"H","v":0.12,"id":50},
  {"p":"mD","g":"L","v":0.17,"id":1},{"p":"mD","g":"L","v":0.14,"id":2},{"p":"mD","g":"L","v":0.2,"id":3},{"p":"mD","g":"L","v":0.12,"id":4},{"p":"mD","g":"L","v":0.18,"id":5},{"p":"mD","g":"L","v":0.22,"id":6},{"p":"mD","g":"L","v":0.1,"id":7},{"p":"mD","g":"L","v":0.16,"id":8},{"p":"mD","g":"L","v":0.24,"id":9},{"p":"mD","g":"L","v":0.13,"id":10},{"p":"mD","g":"L","v":0.19,"id":11},{"p":"mD","g":"L","v":0.08,"id":12},{"p":"mD","g":"L","v":0.27,"id":13},{"p":"mD","g":"L","v":0.15,"id":14},{"p":"mD","g":"L","v":0.21,"id":15},{"p":"mD","g":"L","v":0.11,"id":16},{"p":"mD","g":"L","v":0.18,"id":17},{"p":"mD","g":"L","v":0.3,"id":18},{"p":"mD","g":"L","v":0.14,"id":19},{"p":"mD","g":"L","v":0.17,"id":20},{"p":"mD","g":"L","v":0.06,"id":21},{"p":"mD","g":"L","v":0.23,"id":22},{"p":"mD","g":"L","v":0.16,"id":23},{"p":"mD","g":"L","v":0.34,"id":24},{"p":"mD","g":"L","v":0.12,"id":25},{"p":"mD","g":"L","v":0.19,"id":26},{"p":"mD","g":"L","v":0.09,"id":27},{"p":"mD","g":"L","v":0.25,"id":28},{"p":"mD","g":"L","v":0.15,"id":29},{"p":"mD","g":"L","v":0.2,"id":30},{"p":"mD","g":"L","v":0.13,"id":31},{"p":"mD","g":"L","v":0.4,"id":32},{"p":"mD","g":"L","v":0.18,"id":33},{"p":"mD","g":"L","v":0.11,"id":34},{"p":"mD","g":"L","v":0.22,"id":35},{"p":"mD","g":"L","v":0.03,"id":36},{"p":"mD","g":"L","v":0.17,"id":37},{"p":"mD","g":"L","v":0.28,"id":38},{"p":"mD","g":"L","v":0.14,"id":39},{"p":"mD","g":"L","v":0.48,"id":40},{"p":"mD","g":"L","v":0.19,"id":41},{"p":"mD","g":"L","v":0.16,"id":42},{"p":"mD","g":"L","v":0.1,"id":43},{"p":"mD","g":"L","v":0.21,"id":44},{"p":"mD","g":"L","v":0.55,"id":45},{"p":"mD","g":"L","v":0.15,"id":46},{"p":"mD","g":"L","v":0.18,"id":47},{"p":"mD","g":"L","v":0.12,"id":48},{"p":"mD","g":"L","v":0.76,"id":49},{"p":"mD","g":"L","v":0.2,"id":50}
 ]
},
"hconcat": [
 {"vconcat": [
  {"vconcat": [
    {"width": 349, "height": 12, "view": {"stroke": null}, "data": {"values": [{"t": "A", "s": "LGG overall copy number gistic score"}]},
     "layer": [
      {"mark": {"type": "text", "fontSize": 17, "align": "left", "baseline": "middle", "color": "#000"},
       "encoding": {"x": {"datum": -225, "type": "quantitative", "scale": {"domain": [0, 3034], "nice": false, "zero": false}, "axis": null}, "y": {"datum": 0.45, "type": "quantitative", "scale": {"domain": [0, 1], "nice": false}, "axis": null}, "text": {"field": "t"}}},
      {"mark": {"type": "text", "fontSize": 8.5, "fontWeight": "bold", "align": "center", "baseline": "middle", "color": "#111"},
       "encoding": {"x": {"datum": 1517, "type": "quantitative"}, "y": {"datum": 0.55, "type": "quantitative"}, "text": {"field": "s"}}}
     ]},
    {"width": 349, "height": 83,
     "layer": [
      {"data": {"name": "chr"}, "transform": [{"filter": "datum.s > 0"}], "mark": {"type": "rule", "color": "#d9d9d9", "strokeWidth": 0.7},
       "encoding": {"x": {"field": "s", "type": "quantitative", "scale": {"domain": [0, 3034], "nice": false, "zero": false}, "axis": null}}},
      {"data": {"name": "gis"}, "mark": {"type": "area"},
       "encoding": {"x": {"field": "p", "type": "quantitative"},
        "y": {"field": "g", "type": "quantitative", "scale": {"domain": [-0.44, 0.667], "nice": false}, "axis": {"values": [-0.4, -0.2, 0, 0.2, 0.4, 0.6], "format": ".1f", "title": "gistic score"}},
        "color": {"datum": "gain", "type": "nominal", "scale": {"domain": ["gain", "loss"], "range": ["#CD534C", "#0073C2"]}, "legend": {"orient": "top-left", "title": null, "labelFontSize": 3, "symbolSize": 6, "offset": 2, "rowPadding": 0, "labelOffset": 1}}}},
      {"data": {"name": "gis"}, "mark": {"type": "area"},
       "encoding": {"x": {"field": "p", "type": "quantitative"}, "y": {"field": "l", "type": "quantitative"}, "color": {"datum": "loss", "type": "nominal"}}},
      {"data": {"name": "chr"}, "transform": [{"filter": "datum.n % 2 == 0"}], "mark": {"type": "text", "fontSize": 4.5, "color": "#333"},
       "encoding": {"x": {"field": "m", "type": "quantitative"}, "y": {"datum": 0.49}, "text": {"field": "c"}}},
      {"data": {"name": "chr"}, "transform": [{"filter": "datum.n % 2 == 1"}], "mark": {"type": "text", "fontSize": 4.5, "color": "#333"},
       "encoding": {"x": {"field": "m", "type": "quantitative"}, "y": {"datum": -0.35}, "text": {"field": "c"}}}
     ]}
   ], "spacing": 2, "resolve": {"scale": {"color": "independent"}}},
  {"vconcat": [
    {"width": 351, "height": 80, "data": {"name": "arm"},
     "layer": [
      {"layer": [
        {"mark": {"type": "bar"},
         "encoding": {
          "x": {"field": "a", "type": "nominal", "scale": {"domain": ["1p","1q","2p","2q","3p","3q","4p","4q","5p","5q","6p","6q","7p","7q","8p","8q","9p","9q","10p","10q","11p","11q","12p","12q","13q","14q","15q","16p","16q","17p","17q","18p","18q","19p","19q","20p","20q","21q","22q"], "paddingInner": 0.25, "paddingOuter": 0.15}, "axis": {"title": null, "labelAngle": 0, "labelFontSize": 4, "grid": true}},
          "xOffset": {"field": "r", "type": "nominal", "scale": {"domain": ["H", "L"]}},
          "y": {"field": "amp", "type": "quantitative", "scale": {"domain": [-0.025, 0.53], "nice": false}, "axis": {"values": [0, 0.1, 0.2, 0.3, 0.4, 0.5], "format": ".1f", "title": "Amplification frequency", "grid": true}},
          "color": {"field": "r", "type": "nominal", "scale": {"domain": ["H", "L"], "range": ["#CD534C", "#0073C2"]}, "legend": {"orient": "none", "legendX": 150, "legendY": -11, "title": null, "direction": "horizontal", "labelExpr": "datum.label == 'H' ? 'High risk' : 'Low risk'", "labelFontSize": 4, "symbolSize": 20}}}},
        {"data": {"name": "st"}, "transform": [{"filter": "datum.t == 'amp'"}],
         "mark": {"type": "point", "shape": "M0,-1L0.235,-0.324L0.951,-0.309L0.38,0.124L0.588,0.809L0,0.4L-0.588,0.809L-0.38,0.124L-0.951,-0.309L-0.235,-0.324Z", "filled": true, "color": "#FF2222", "size": 14, "opacity": 1, "yOffset": -4},
         "encoding": {"x": {"field": "a", "type": "nominal"}, "y": {"field": "v", "type": "quantitative"}}}
       ]},
      {"data": {"values": [{"t": "B"}]}, "mark": {"type": "text", "fontSize": 17, "align": "left", "baseline": "middle", "color": "#000"},
       "encoding": {"x": {"datum": -0.07, "type": "quantitative", "scale": {"domain": [0, 1], "nice": false, "zero": false}, "axis": null}, "y": {"datum": 0.575, "type": "quantitative"}, "text": {"field": "t"}}}
     ],
     "resolve": {"scale": {"x": "independent"}}},
    {"width": 351, "height": 78, "data": {"name": "arm"},
     "layer": [
      {"mark": {"type": "bar"},
       "encoding": {
        "x": {"field": "a", "type": "nominal", "scale": {"domain": ["1p","1q","2p","2q","3p","3q","4p","4q","5p","5q","6p","6q","7p","7q","8p","8q","9p","9q","10p","10q","11p","11q","12p","12q","13q","14q","15q","16p","16q","17p","17q","18p","18q","19p","19q","20p","20q","21q","22q"], "paddingInner": 0.25, "paddingOuter": 0.15}, "axis": {"title": null, "labels": false, "grid": true}},
        "xOffset": {"field": "r", "type": "nominal", "scale": {"domain": ["H", "L"]}},
        "y": {"field": "del", "type": "quantitative", "scale": {"domain": [-0.02, 0.71], "nice": false, "reverse": true}, "axis": {"values": [0, 0.2, 0.4, 0.6], "format": ".1f", "title": "Deletion frequency", "grid": true}},
        "color": {"field": "r", "type": "nominal", "scale": {"domain": ["H", "L"], "range": ["#CD534C", "#0073C2"]}, "legend": null}}},
      {"data": {"name": "st"}, "transform": [{"filter": "datum.t == 'del'"}],
       "mark": {"type": "point", "shape": "M0,-1L0.235,-0.324L0.951,-0.309L0.38,0.124L0.588,0.809L0,0.4L-0.588,0.809L-0.38,0.124L-0.951,-0.309L-0.235,-0.324Z", "filled": true, "color": "#FF2222", "size": 14, "opacity": 1, "yOffset": 3},
       "encoding": {"x": {"field": "a", "type": "nominal"}, "y": {"field": "v", "type": "quantitative"}}}
     ]}
   ], "spacing": 3, "resolve": {"scale": {"color": "independent"}}},
  {"hconcat": [
    {"width": 54, "height": 100, "title": {"text": "Focal", "fontSize": 7, "fontWeight": "normal", "offset": 6},
     "layer": [
      {"data": {"name": "cb"}, "transform": [{"filter": "datum.p == 'FG'"}], "mark": {"type": "rule", "color": "#333", "strokeWidth": 0.6},
       "encoding": {"x": {"field": "g", "type": "nominal", "scale": {"domain": ["High risk", "Low risk"], "paddingInner": 0.15, "paddingOuter": 0.08}, "axis": {"title": null, "labelAngle": 0, "labelFontSize": 5.5, "labelColor": "#333"}},
        "y": {"field": "lo", "type": "quantitative", "scale": {"domain": [-115, 3793], "nice": false}, "axis": {"values": [0, 1000, 2000, 3000], "format": "d", "title": "Burden of Copy Number Gain", "titleFontSize": 6.5, "labelFontSize": 5}},
        "y2": {"field": "hi"}}},
      {"data": {"name": "cb"}, "transform": [{"filter": "datum.p == 'FG'"}], "mark": {"type": "bar", "size": 21, "stroke": "#333", "strokeWidth": 0.6},
       "encoding": {"x": {"field": "g", "type": "nominal"}, "y": {"field": "q1", "type": "quantitative"}, "y2": {"field": "q3"}, "color": {"field": "g", "type": "nominal", "scale": {"domain": ["High risk", "Low risk"], "range": ["#CD534C", "#0073C2"]}, "legend": null}}},
      {"data": {"name": "cb"}, "transform": [{"filter": "datum.p == 'FG'"}], "mark": {"type": "tick", "color": "#111", "size": 21, "thickness": 1.2},
       "encoding": {"x": {"field": "g", "type": "nominal"}, "y": {"field": "md", "type": "quantitative"}}},
      {"data": {"name": "co"}, "transform": [{"filter": "datum.p == 'FG'"}], "mark": {"type": "circle", "color": "#000", "size": 5, "opacity": 1},
       "encoding": {"x": {"field": "g", "type": "nominal"}, "y": {"field": "v", "type": "quantitative"}}},
      {"data": {"name": "cs"}, "transform": [{"filter": "datum.p == 'FG'"}], "mark": {"type": "rule", "color": "#333", "strokeWidth": 0.5},
       "encoding": {"x": {"datum": "High risk", "type": "nominal"}, "x2": {"datum": "Low risk"}, "y": {"field": "y", "type": "quantitative"}}},
      {"data": {"name": "cs"}, "transform": [{"filter": "datum.p == 'FG'"}], "mark": {"type": "text", "fontSize": 5, "dy": -2.5, "color": "#333"},
       "encoding": {"y": {"field": "y", "type": "quantitative"}, "text": {"field": "t"}}}
     ]},
    {"width": 54, "height": 100, "title": {"text": "Focal", "fontSize": 7, "fontWeight": "normal", "offset": 6},
     "layer": [
      {"data": {"name": "cb"}, "transform": [{"filter": "datum.p == 'FL'"}], "mark": {"type": "rule", "color": "#333", "strokeWidth": 0.6},
       "encoding": {"x": {"field": "g", "type": "nominal", "scale": {"domain": ["High risk", "Low risk"], "paddingInner": 0.15, "paddingOuter": 0.08}, "axis": {"title": null, "labelAngle": 0, "labelFontSize": 5.5, "labelColor": "#333"}},
        "y": {"field": "lo", "type": "quantitative", "scale": {"domain": [-150, 4900], "nice": false}, "axis": {"values": [0, 1000, 2000, 3000, 4000], "format": "d", "title": "Burden of Copy Number Loss", "titleFontSize": 6.5, "labelFontSize": 5}},
        "y2": {"field": "hi"}}},
      {"data": {"name": "cb"}, "transform": [{"filter": "datum.p == 'FL'"}], "mark": {"type": "bar", "size": 21, "stroke": "#333", "strokeWidth": 0.6},
       "encoding": {"x": {"field": "g", "type": "nominal"}, "y": {"field": "q1", "type": "quantitative"}, "y2": {"field": "q3"}, "color": {"field": "g", "type": "nominal", "scale": {"domain": ["High risk", "Low risk"], "range": ["#CD534C", "#0073C2"]}, "legend": null}}},
      {"data": {"name": "cb"}, "transform": [{"filter": "datum.p == 'FL'"}], "mark": {"type": "tick", "color": "#111", "size": 21, "thickness": 1.2},
       "encoding": {"x": {"field": "g", "type": "nominal"}, "y": {"field": "md", "type": "quantitative"}}},
      {"data": {"name": "co"}, "transform": [{"filter": "datum.p == 'FL'"}], "mark": {"type": "circle", "color": "#000", "size": 5, "opacity": 1},
       "encoding": {"x": {"field": "g", "type": "nominal"}, "y": {"field": "v", "type": "quantitative"}}},
      {"data": {"name": "cs"}, "transform": [{"filter": "datum.p == 'FL'"}], "mark": {"type": "rule", "color": "#333", "strokeWidth": 0.5},
       "encoding": {"x": {"datum": "High risk", "type": "nominal"}, "x2": {"datum": "Low risk"}, "y": {"field": "y", "type": "quantitative"}}},
      {"data": {"name": "cs"}, "transform": [{"filter": "datum.p == 'FL'"}], "mark": {"type": "text", "fontSize": 5, "dy": -2.5, "color": "#333"},
       "encoding": {"y": {"field": "y", "type": "quantitative"}, "text": {"field": "t"}}}
     ]},
    {"width": 58, "height": 100, "title": {"text": "Arm−level", "fontSize": 7, "fontWeight": "normal", "offset": 6},
     "layer": [
      {"data": {"name": "cb"}, "transform": [{"filter": "datum.p == 'AG'"}], "mark": {"type": "rule", "color": "#333", "strokeWidth": 0.6},
       "encoding": {"x": {"field": "g", "type": "nominal", "scale": {"domain": ["High risk", "Low risk"], "paddingInner": 0.15, "paddingOuter": 0.08}, "axis": {"title": null, "labelAngle": 0, "labelFontSize": 5.5, "labelColor": "#333"}},
        "y": {"field": "lo", "type": "quantitative", "scale": {"domain": [-500, 16400], "nice": false}, "axis": {"values": [0, 5000, 10000, 15000], "format": "d", "title": "Burden of Copy Number Gain", "titleFontSize": 6.5, "labelFontSize": 5}},
        "y2": {"field": "hi"}}},
      {"data": {"name": "cb"}, "transform": [{"filter": "datum.p == 'AG'"}], "mark": {"type": "bar", "size": 23, "stroke": "#333", "strokeWidth": 0.6},
       "encoding": {"x": {"field": "g", "type": "nominal"}, "y": {"field": "q1", "type": "quantitative"}, "y2": {"field": "q3"}, "color": {"field": "g", "type": "nominal", "scale": {"domain": ["High risk", "Low risk"], "range": ["#CD534C", "#0073C2"]}, "legend": null}}},
      {"data": {"name": "cb"}, "transform": [{"filter": "datum.p == 'AG'"}], "mark": {"type": "tick", "color": "#111", "size": 23, "thickness": 1.2},
       "encoding": {"x": {"field": "g", "type": "nominal"}, "y": {"field": "md", "type": "quantitative"}}},
      {"data": {"name": "co"}, "transform": [{"filter": "datum.p == 'AG'"}], "mark": {"type": "circle", "color": "#000", "size": 5, "opacity": 1},
       "encoding": {"x": {"field": "g", "type": "nominal"}, "y": {"field": "v", "type": "quantitative"}}},
      {"data": {"name": "cs"}, "transform": [{"filter": "datum.p == 'AG'"}], "mark": {"type": "rule", "color": "#333", "strokeWidth": 0.5},
       "encoding": {"x": {"datum": "High risk", "type": "nominal"}, "x2": {"datum": "Low risk"}, "y": {"field": "y", "type": "quantitative"}}},
      {"data": {"name": "cs"}, "transform": [{"filter": "datum.p == 'AG'"}], "mark": {"type": "text", "fontSize": 5, "dy": -2.5, "color": "#333"},
       "encoding": {"y": {"field": "y", "type": "quantitative"}, "text": {"field": "t"}}}
     ]},
    {"width": 52, "height": 100, "title": {"text": "Arm−level", "fontSize": 7, "fontWeight": "normal", "offset": 6},
     "layer": [
      {"data": {"name": "cb"}, "transform": [{"filter": "datum.p == 'AL'"}], "mark": {"type": "rule", "color": "#333", "strokeWidth": 0.6},
       "encoding": {"x": {"field": "g", "type": "nominal", "scale": {"domain": ["High risk", "Low risk"], "paddingInner": 0.15, "paddingOuter": 0.08}, "axis": {"title": null, "labelAngle": 0, "labelFontSize": 5.5, "labelColor": "#333"}},
        "y": {"field": "lo", "type": "quantitative", "scale": {"domain": [-500, 16100], "nice": false}, "axis": {"values": [0, 5000, 10000, 15000], "format": "d", "title": "Burden of Copy Number Loss", "titleFontSize": 6.5, "labelFontSize": 5}},
        "y2": {"field": "hi"}}},
      {"data": {"name": "cb"}, "transform": [{"filter": "datum.p == 'AL'"}], "mark": {"type": "bar", "size": 21, "stroke": "#333", "strokeWidth": 0.6},
       "encoding": {"x": {"field": "g", "type": "nominal"}, "y": {"field": "q1", "type": "quantitative"}, "y2": {"field": "q3"}, "color": {"field": "g", "type": "nominal", "scale": {"domain": ["High risk", "Low risk"], "range": ["#CD534C", "#0073C2"]}, "legend": null}}},
      {"data": {"name": "cb"}, "transform": [{"filter": "datum.p == 'AL'"}], "mark": {"type": "tick", "color": "#111", "size": 21, "thickness": 1.2},
       "encoding": {"x": {"field": "g", "type": "nominal"}, "y": {"field": "md", "type": "quantitative"}}},
      {"data": {"name": "co"}, "transform": [{"filter": "datum.p == 'AL'"}], "mark": {"type": "circle", "color": "#000", "size": 5, "opacity": 1},
       "encoding": {"x": {"field": "g", "type": "nominal"}, "y": {"field": "v", "type": "quantitative"}}},
      {"data": {"name": "cs"}, "transform": [{"filter": "datum.p == 'AL'"}], "mark": {"type": "rule", "color": "#333", "strokeWidth": 0.5},
       "encoding": {"x": {"datum": "High risk", "type": "nominal"}, "x2": {"datum": "Low risk"}, "y": {"field": "y", "type": "quantitative"}}},
      {"data": {"name": "cs"}, "transform": [{"filter": "datum.p == 'AL'"}], "mark": {"type": "text", "fontSize": 5, "dy": -2.5, "color": "#333"},
       "encoding": {"y": {"field": "y", "type": "quantitative"}, "text": {"field": "t"}}}
     ]}
   ], "spacing": 11, "resolve": {"scale": {"color": "independent"}},
   "title": {"text": "C", "orient": "left", "anchor": "end", "angle": 0, "fontSize": 17, "fontWeight": "normal", "align": "right", "baseline": "top", "offset": 1}}
 ], "spacing": 6, "align": "none", "resolve": {"scale": {"color": "independent"}}},
 {"vconcat": [
  {"vconcat": [
    {"width": 222, "height": 47, "data": {"name": "dd"},
     "layer": [
      {"mark": {"type": "area", "color": "#C9504A"},
       "encoding": {"x": {"field": "i", "type": "quantitative", "scale": {"domain": [1, 100], "nice": false, "zero": false}, "axis": null},
        "y": {"field": "m", "type": "quantitative", "scale": {"domain": [-0.03, 1.03], "nice": false}, "axis": {"values": [0, 0.25, 0.5, 0.75, 1], "format": ".2f", "title": "mRNAsi", "labelFontSize": 3.5, "titleFontSize": 4}}}},
      {"data": {"values": [{"t": "D"}]}, "mark": {"type": "text", "fontSize": 17, "align": "left", "baseline": "middle", "color": "#000"},
       "encoding": {"x": {"datum": -20, "type": "quantitative"}, "y": {"datum": 0.9, "type": "quantitative"}, "text": {"field": "t"}}}
     ]},
    {"width": 222, "height": 62, "data": {"name": "dd"}, "view": {"stroke": null},
     "layer": [
      {"mark": "rect", "encoding": {"x": {"field": "i", "type": "ordinal", "scale": {"paddingInner": 0, "paddingOuter": 0}, "axis": null}, "y": {"datum": "Gender", "type": "nominal", "scale": {"domain": ["Gender", "Grade", "IDH1_status", "radiation_therapy", "Risk"], "paddingInner": 0.14, "paddingOuter": 0.02}, "axis": {"title": null, "ticks": false, "labelFontSize": 4.5, "labelPadding": 2, "labelColor": "#222"}},
        "color": {"field": "g", "type": "nominal", "scale": {"domain": ["F", "M"], "range": ["#EDF6B8", "#41B6C4"]}, "legend": {"orient": "none", "legendX": 0, "legendY": 68, "direction": "horizontal", "title": "Gender", "titleOrient": "left", "labelExpr": "datum.label == 'F' ? 'Female' : 'Male'"}}}},
      {"mark": "rect", "encoding": {"x": {"field": "i", "type": "ordinal"}, "y": {"datum": "Grade", "type": "nominal"},
        "color": {"field": "r", "type": "nominal", "scale": {"domain": ["2", "3", "U"], "range": ["#FDDDD0", "#FB7A5A", "#CB181D"]}, "legend": {"orient": "none", "legendX": 62, "legendY": 68, "direction": "horizontal", "title": "Grade", "titleOrient": "left", "labelExpr": "datum.label == 'U' ? 'Unknown' : 'G' + datum.label"}}}},
      {"mark": "rect", "encoding": {"x": {"field": "i", "type": "ordinal"}, "y": {"datum": "IDH1_status", "type": "nominal"},
        "color": {"field": "d", "type": "nominal", "scale": {"domain": ["W", "M", "U"], "range": ["#F7FCB9", "#78C679", "#006837"]}, "legend": {"orient": "none", "legendX": 132, "legendY": 68, "direction": "horizontal", "title": "IDH1_status", "titleOrient": "left", "labelExpr": "datum.label == 'W' ? 'Wild' : datum.label == 'M' ? 'Mutation' : 'Unknown'"}}}},
      {"mark": "rect", "encoding": {"x": {"field": "i", "type": "ordinal"}, "y": {"datum": "radiation_therapy", "type": "nominal"},
        "color": {"field": "t", "type": "nominal", "scale": {"domain": ["N", "Y", "U"], "range": ["#EFEDF5", "#BCBDDC", "#6A51A3"]}, "legend": {"orient": "none", "legendX": 0, "legendY": 80, "direction": "horizontal", "title": "radiation_therapy", "titleOrient": "left", "labelExpr": "datum.label == 'N' ? 'NO' : datum.label == 'Y' ? 'YES' : 'Unknown'"}}}},
      {"mark": "rect", "encoding": {"x": {"field": "i", "type": "ordinal"}, "y": {"datum": "Risk", "type": "nominal"},
        "color": {"field": "k", "type": "nominal", "scale": {"domain": ["H", "L"], "range": ["#CD534C", "#0073C2"]}, "legend": {"orient": "none", "legendX": 100, "legendY": 80, "direction": "horizontal", "title": "Risk", "titleOrient": "left", "labelExpr": "datum.label == 'H' ? 'High risk' : 'Low risk'"}}}}
     ],
     "resolve": {"scale": {"color": "independent"}}}
   ], "spacing": 2, "resolve": {"scale": {"color": "independent"}}},
  {"vconcat": [
    {"width": 222, "height": 47, "data": {"name": "ed"},
     "layer": [
      {"mark": {"type": "area", "color": "#0A6CBF"},
       "encoding": {"x": {"field": "i", "type": "quantitative", "scale": {"domain": [1, 100], "nice": false, "zero": false}, "axis": null},
        "y": {"field": "m", "type": "quantitative", "scale": {"domain": [-0.03, 1.03], "nice": false}, "axis": {"values": [0, 0.25, 0.5, 0.75, 1], "format": ".2f", "title": "mDNAsi", "labelFontSize": 3.5, "titleFontSize": 4}}}},
      {"data": {"values": [{"t": "E"}]}, "mark": {"type": "text", "fontSize": 17, "align": "left", "baseline": "middle", "color": "#000"},
       "encoding": {"x": {"datum": -20, "type": "quantitative"}, "y": {"datum": 0.93, "type": "quantitative"}, "text": {"field": "t"}}}
     ]},
    {"width": 222, "height": 62, "data": {"name": "ed"}, "view": {"stroke": null},
     "layer": [
      {"mark": "rect", "encoding": {"x": {"field": "i", "type": "ordinal", "scale": {"paddingInner": 0, "paddingOuter": 0}, "axis": null}, "y": {"datum": "Gender", "type": "nominal", "scale": {"domain": ["Gender", "Grade", "IDH1_status", "radiation_therapy", "Risk"], "paddingInner": 0.14, "paddingOuter": 0.02}, "axis": {"title": null, "ticks": false, "labelFontSize": 4.5, "labelPadding": 2, "labelColor": "#222"}},
        "color": {"field": "g", "type": "nominal", "scale": {"domain": ["F", "M"], "range": ["#EDF6B8", "#41B6C4"]}, "legend": {"orient": "none", "legendX": 0, "legendY": 68, "direction": "horizontal", "title": "Gender", "titleOrient": "left", "labelExpr": "datum.label == 'F' ? 'Female' : 'Male'"}}}},
      {"mark": "rect", "encoding": {"x": {"field": "i", "type": "ordinal"}, "y": {"datum": "Grade", "type": "nominal"},
        "color": {"field": "r", "type": "nominal", "scale": {"domain": ["2", "3", "U"], "range": ["#FDDDD0", "#FB7A5A", "#CB181D"]}, "legend": {"orient": "none", "legendX": 62, "legendY": 68, "direction": "horizontal", "title": "Grade", "titleOrient": "left", "labelExpr": "datum.label == 'U' ? 'Unknown' : 'G' + datum.label"}}}},
      {"mark": "rect", "encoding": {"x": {"field": "i", "type": "ordinal"}, "y": {"datum": "IDH1_status", "type": "nominal"},
        "color": {"field": "d", "type": "nominal", "scale": {"domain": ["W", "M", "U"], "range": ["#F7FCB9", "#78C679", "#006837"]}, "legend": {"orient": "none", "legendX": 132, "legendY": 68, "direction": "horizontal", "title": "IDH1_status", "titleOrient": "left", "labelExpr": "datum.label == 'W' ? 'Wild' : datum.label == 'M' ? 'Mutation' : 'Unknown'"}}}},
      {"mark": "rect", "encoding": {"x": {"field": "i", "type": "ordinal"}, "y": {"datum": "radiation_therapy", "type": "nominal"},
        "color": {"field": "t", "type": "nominal", "scale": {"domain": ["N", "Y", "U"], "range": ["#EFEDF5", "#BCBDDC", "#6A51A3"]}, "legend": {"orient": "none", "legendX": 0, "legendY": 80, "direction": "horizontal", "title": "radiation_therapy", "titleOrient": "left", "labelExpr": "datum.label == 'N' ? 'NO' : datum.label == 'Y' ? 'YES' : 'Unknown'"}}}},
      {"mark": "rect", "encoding": {"x": {"field": "i", "type": "ordinal"}, "y": {"datum": "Risk", "type": "nominal"},
        "color": {"field": "k", "type": "nominal", "scale": {"domain": ["H", "L"], "range": ["#CD534C", "#0073C2"]}, "legend": {"orient": "none", "legendX": 100, "legendY": 80, "direction": "horizontal", "title": "Risk", "titleOrient": "left", "labelExpr": "datum.label == 'H' ? 'High risk' : 'Low risk'"}}}}
     ],
     "resolve": {"scale": {"color": "independent"}}}
   ], "spacing": 2, "resolve": {"scale": {"color": "independent"}}},
  {"hconcat": [
    {"data": {"name": "fv"}, "transform": [{"filter": "datum.p == 'mR'"}, {"lookup": "g", "from": {"data": {"name": "glab"}, "key": "g", "fields": ["gl"]}}],
     "title": {"text": "***", "fontSize": 5, "fontWeight": "normal", "offset": 8, "anchor": "middle"},
     "facet": {"column": {"field": "gl", "type": "nominal", "header": {"title": null, "labelOrient": "bottom", "labelFontSize": 4, "labelPadding": 2}}},
     "spacing": 0, "bounds": "flush",
     "spec": {"width": 46, "height": 106,
      "layer": [
       {"layer": [
         {"transform": [{"filter": "isValid(datum.v)"}, {"density": "v", "groupby": ["g"], "bandwidth": 0.045, "as": ["value", "density"]}],
          "mark": {"type": "area", "orient": "horizontal", "fillOpacity": 0.55},
          "encoding": {"y": {"field": "value", "type": "quantitative", "scale": {"domain": [-0.06, 1.05], "nice": false}, "axis": {"values": [0, 0.25, 0.5, 0.75, 1], "format": ".2f", "title": "mRNAsi", "grid": true, "labelFontSize": 3.5, "titleFontSize": 4}},
           "x": {"field": "density", "type": "quantitative", "scale": {"domain": [-5, 5]}, "axis": null},
           "fill": {"field": "g", "type": "nominal", "scale": {"domain": ["H", "L"], "range": ["#E06A63", "#3D8FD6"]}, "legend": null}}},
         {"transform": [{"filter": "isValid(datum.v)"}, {"density": "v", "groupby": ["g"], "bandwidth": 0.045, "as": ["value", "density"]}],
          "mark": {"type": "line", "strokeWidth": 0.5},
          "encoding": {"y": {"field": "value", "type": "quantitative"}, "x": {"field": "density", "type": "quantitative"}, "order": {"field": "value"},
           "stroke": {"field": "g", "type": "nominal", "scale": {"domain": ["H", "L"], "range": ["#5E2320", "#0B3560"]}, "legend": null}}},
         {"transform": [{"filter": "isValid(datum.q1)"}], "mark": {"type": "bar", "fillOpacity": 0.35, "strokeWidth": 0.5},
          "encoding": {"x": {"datum": -2.3, "type": "quantitative"}, "x2": {"datum": 2.3}, "y": {"field": "q1", "type": "quantitative"}, "y2": {"field": "q3"}, "fill": {"field": "g", "type": "nominal", "legend": null}, "stroke": {"field": "g", "type": "nominal", "legend": null}}},
         {"transform": [{"filter": "isValid(datum.q1)"}], "mark": {"type": "rule", "strokeWidth": 0.6},
          "encoding": {"x": {"datum": -2.3, "type": "quantitative"}, "x2": {"datum": 2.3}, "y": {"field": "md", "type": "quantitative"}, "stroke": {"field": "g", "type": "nominal", "legend": null}}}
       ]},
       {"layer": [
         {"transform": [{"filter": "isValid(datum.v)"}, {"density": "v", "groupby": ["g"], "bandwidth": 0.045, "as": ["value", "density"]}],
          "mark": {"type": "area", "orient": "horizontal", "fillOpacity": 0.55},
          "encoding": {"y": {"field": "value", "type": "quantitative"}, "x": {"field": "density", "type": "quantitative", "scale": {"domain": [-5, 5], "reverse": true}, "axis": null}, "fill": {"field": "g", "type": "nominal", "legend": null}}},
         {"transform": [{"filter": "isValid(datum.v)"}, {"density": "v", "groupby": ["g"], "bandwidth": 0.045, "as": ["value", "density"]}],
          "mark": {"type": "line", "strokeWidth": 0.5},
          "encoding": {"y": {"field": "value", "type": "quantitative"}, "x": {"field": "density", "type": "quantitative"}, "order": {"field": "value"}, "stroke": {"field": "g", "type": "nominal", "legend": null}}}
       ]},
       {"transform": [{"filter": "isValid(datum.v)"}], "mark": {"type": "circle", "size": 5, "strokeWidth": 0.3, "opacity": 1},
        "encoding": {"x": {"field": "id", "type": "quantitative", "scale": {"domain": [-55, 105]}, "axis": null}, "y": {"field": "v", "type": "quantitative"}, "fill": {"field": "g", "type": "nominal", "legend": null}, "stroke": {"field": "g", "type": "nominal", "legend": null}}},
       {"transform": [{"filter": "datum.g == 'H' && datum.id == 1"}], "mark": {"type": "text", "text": "F", "fontSize": 17, "align": "left", "baseline": "middle", "color": "#000"},
        "encoding": {"x": {"datum": -150, "type": "quantitative", "scale": {"domain": [-55, 105]}, "axis": null}, "y": {"datum": 1.09, "type": "quantitative"}}}
      ],
      "resolve": {"scale": {"x": "independent"}}}},
    {"data": {"name": "fv"}, "transform": [{"filter": "datum.p == 'mD'"}, {"lookup": "g", "from": {"data": {"name": "glab"}, "key": "g", "fields": ["gl"]}}],
     "title": {"text": "****", "fontSize": 5, "fontWeight": "normal", "offset": 8, "anchor": "middle"},
     "facet": {"column": {"field": "gl", "type": "nominal", "header": {"title": null, "labelOrient": "bottom", "labelFontSize": 4, "labelPadding": 2}}},
     "spacing": 0,
     "spec": {"width": 46, "height": 106,
      "layer": [
       {"layer": [
         {"transform": [{"filter": "isValid(datum.v)"}, {"density": "v", "groupby": ["g"], "bandwidth": 0.045, "as": ["value", "density"]}],
          "mark": {"type": "area", "orient": "horizontal", "fillOpacity": 0.55},
          "encoding": {"y": {"field": "value", "type": "quantitative", "scale": {"domain": [-0.06, 1.05], "nice": false}, "axis": {"values": [0, 0.25, 0.5, 0.75, 1], "format": ".2f", "title": "mDNAsi", "grid": true, "labelFontSize": 3.5, "titleFontSize": 4}},
           "x": {"field": "density", "type": "quantitative", "scale": {"domain": [-6, 6]}, "axis": null},
           "fill": {"field": "g", "type": "nominal", "scale": {"domain": ["H", "L"], "range": ["#E06A63", "#3D8FD6"]}, "legend": null}}},
         {"transform": [{"filter": "isValid(datum.v)"}, {"density": "v", "groupby": ["g"], "bandwidth": 0.045, "as": ["value", "density"]}],
          "mark": {"type": "line", "strokeWidth": 0.5},
          "encoding": {"y": {"field": "value", "type": "quantitative"}, "x": {"field": "density", "type": "quantitative"}, "order": {"field": "value"},
           "stroke": {"field": "g", "type": "nominal", "scale": {"domain": ["H", "L"], "range": ["#5E2320", "#0B3560"]}, "legend": null}}},
         {"transform": [{"filter": "isValid(datum.q1)"}], "mark": {"type": "bar", "fillOpacity": 0.35, "strokeWidth": 0.5},
          "encoding": {"x": {"datum": -2.9, "type": "quantitative"}, "x2": {"datum": 2.9}, "y": {"field": "q1", "type": "quantitative"}, "y2": {"field": "q3"}, "fill": {"field": "g", "type": "nominal", "legend": null}, "stroke": {"field": "g", "type": "nominal", "legend": null}}},
         {"transform": [{"filter": "isValid(datum.q1)"}], "mark": {"type": "rule", "strokeWidth": 0.6},
          "encoding": {"x": {"datum": -2.9, "type": "quantitative"}, "x2": {"datum": 2.9}, "y": {"field": "md", "type": "quantitative"}, "stroke": {"field": "g", "type": "nominal", "legend": null}}}
       ]},
       {"layer": [
         {"transform": [{"filter": "isValid(datum.v)"}, {"density": "v", "groupby": ["g"], "bandwidth": 0.045, "as": ["value", "density"]}],
          "mark": {"type": "area", "orient": "horizontal", "fillOpacity": 0.55},
          "encoding": {"y": {"field": "value", "type": "quantitative"}, "x": {"field": "density", "type": "quantitative", "scale": {"domain": [-6, 6], "reverse": true}, "axis": null}, "fill": {"field": "g", "type": "nominal", "legend": null}}},
         {"transform": [{"filter": "isValid(datum.v)"}, {"density": "v", "groupby": ["g"], "bandwidth": 0.045, "as": ["value", "density"]}],
          "mark": {"type": "line", "strokeWidth": 0.5},
          "encoding": {"y": {"field": "value", "type": "quantitative"}, "x": {"field": "density", "type": "quantitative"}, "order": {"field": "value"}, "stroke": {"field": "g", "type": "nominal", "legend": null}}}
       ]},
       {"transform": [{"filter": "isValid(datum.v)"}], "mark": {"type": "circle", "size": 5, "strokeWidth": 0.3, "opacity": 1},
        "encoding": {"x": {"field": "id", "type": "quantitative", "scale": {"domain": [-55, 105]}, "axis": null}, "y": {"field": "v", "type": "quantitative"}, "fill": {"field": "g", "type": "nominal", "legend": null}, "stroke": {"field": "g", "type": "nominal", "legend": null}}}
      ],
      "resolve": {"scale": {"x": "independent"}}}}
   ], "spacing": 10, "resolve": {"scale": {"fill": "independent", "stroke": "independent"}}}
 ], "spacing": 8, "align": "none", "resolve": {"scale": {"color": "independent", "fill": "independent", "stroke": "independent"}}}
],
"spacing": 8
}
